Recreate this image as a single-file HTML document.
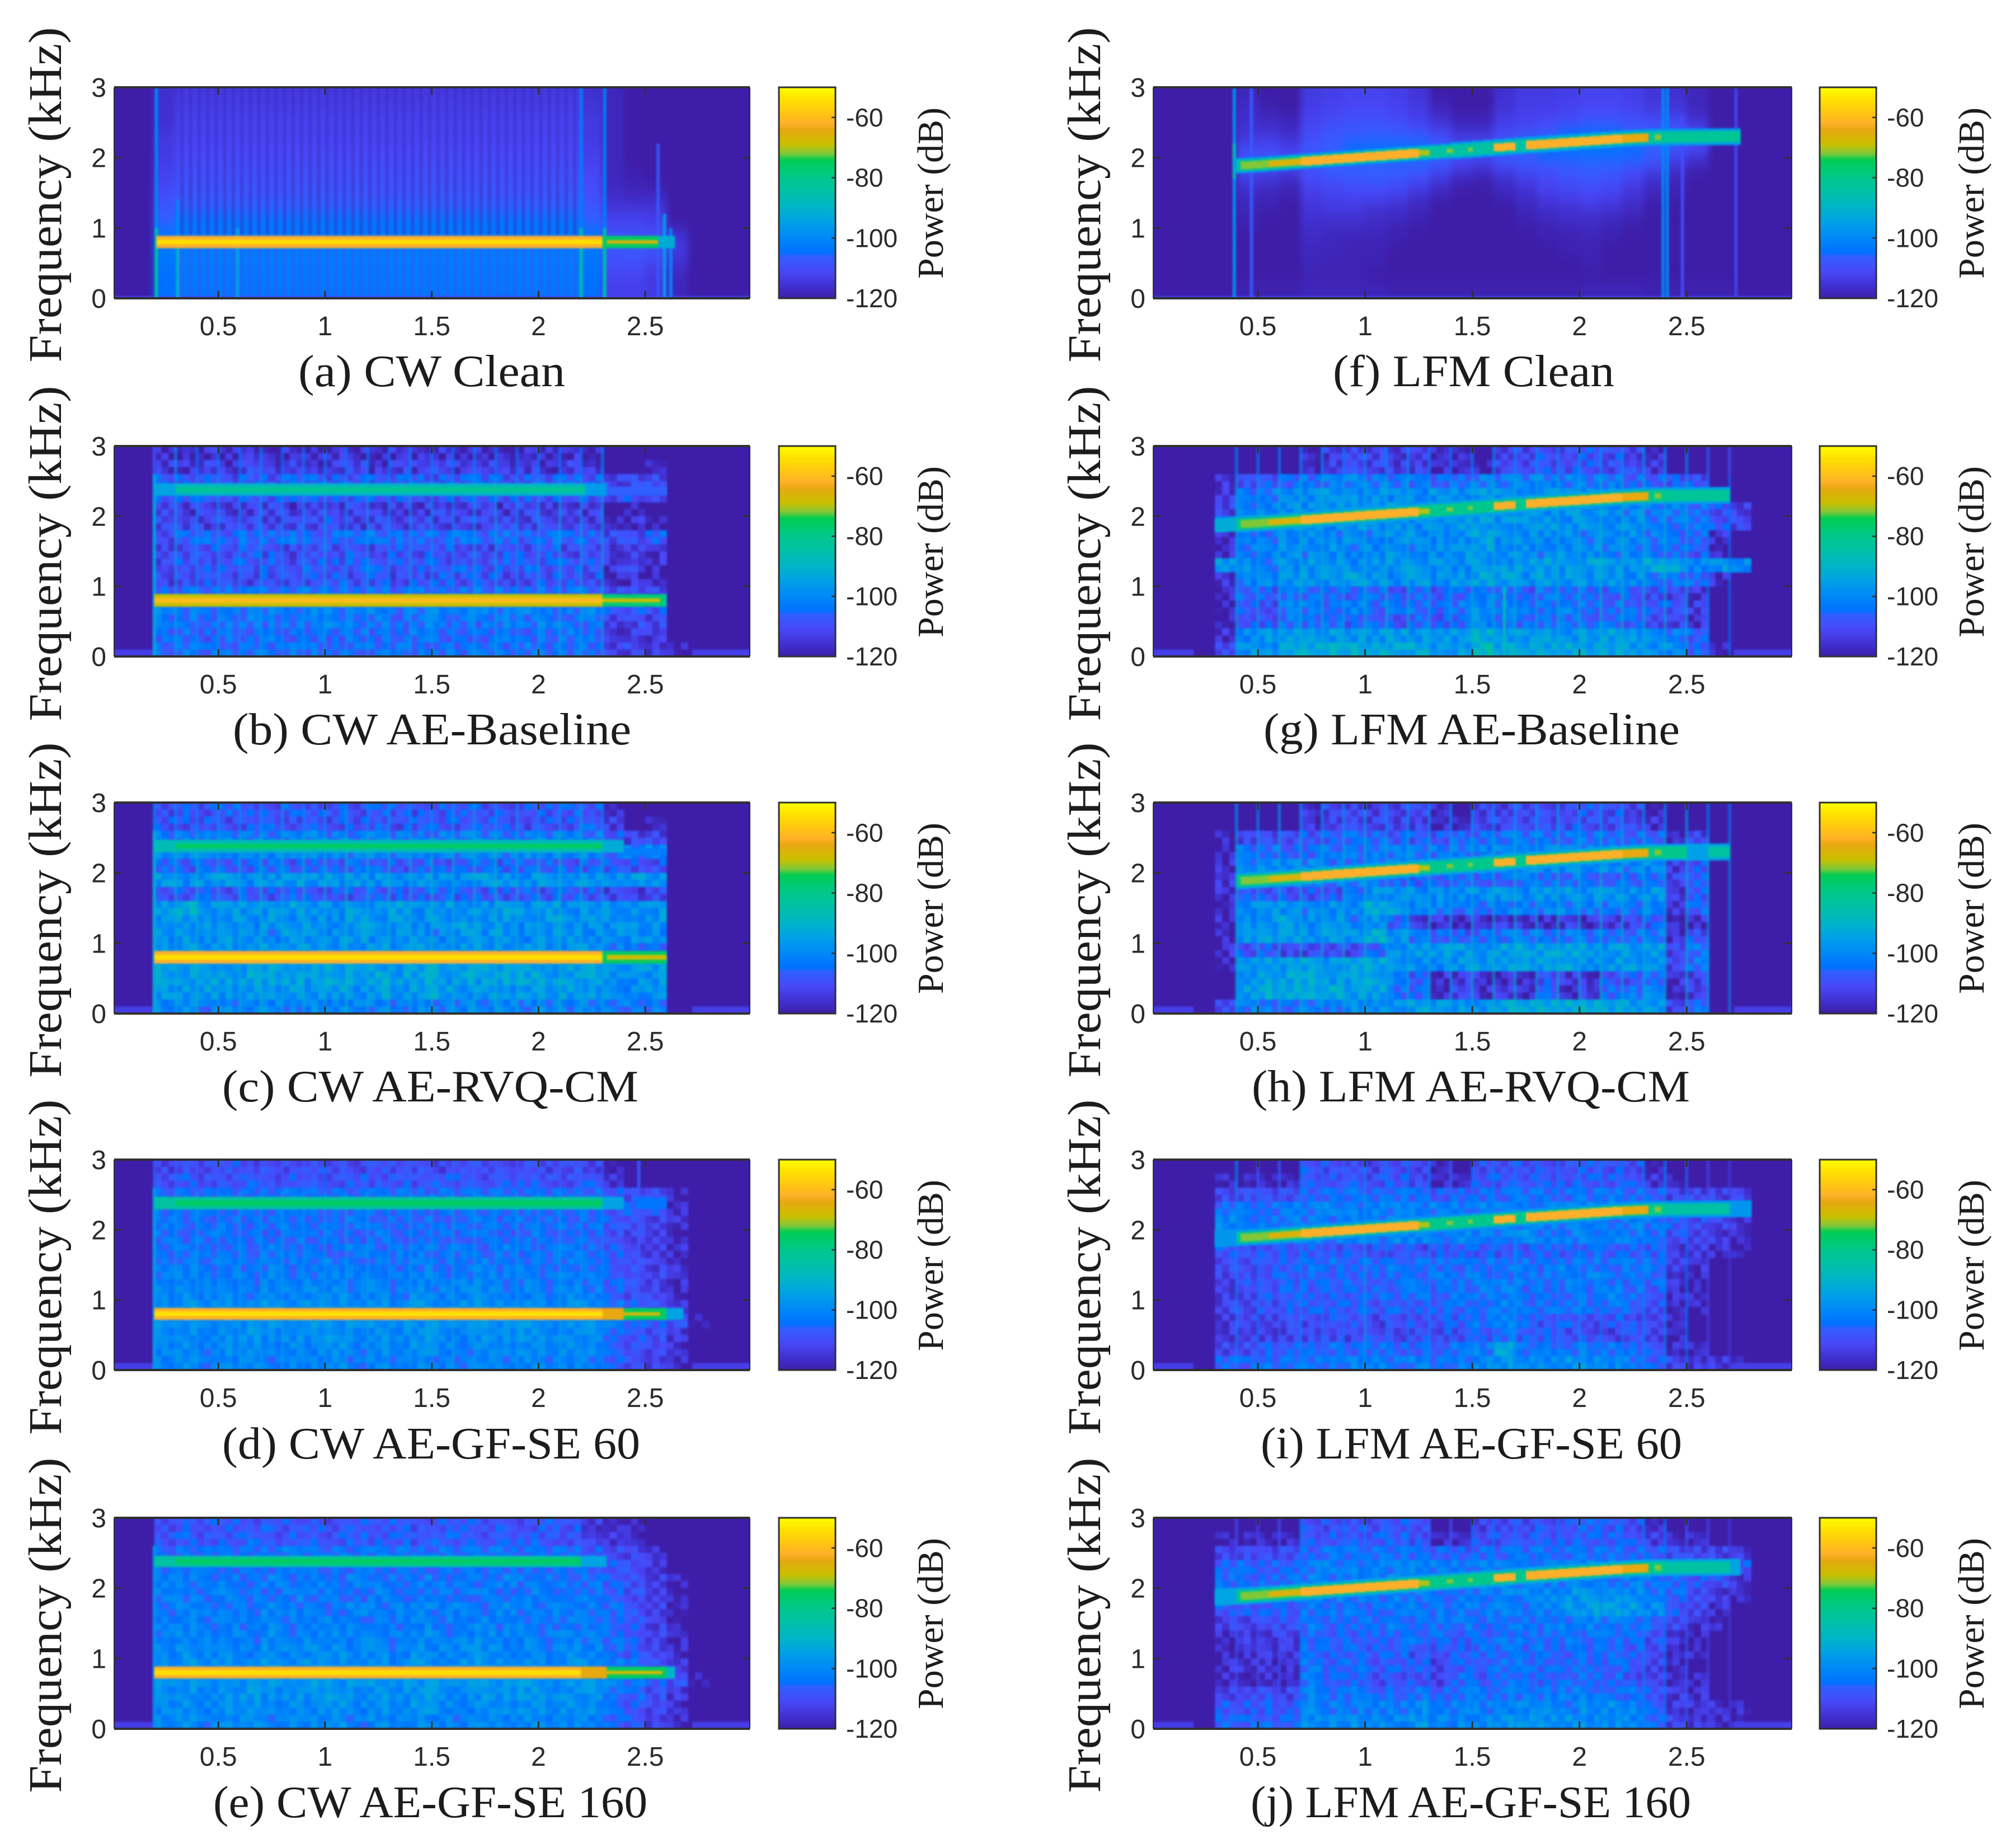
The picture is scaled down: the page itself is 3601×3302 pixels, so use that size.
<!DOCTYPE html>
<html lang="en">
<head>
<meta charset="utf-8">
<title>CW and LFM spectrograms</title>
<style>
html,body{margin:0;padding:0;background:#fff;}
svg{display:block;}
.tick{font-family:"Liberation Sans",Arial,sans-serif;fill:#2b2b2b;}
.serif{font-family:"Liberation Serif","Times New Roman",serif;fill:#1c1c1c;}
</style>
</head>
<body>
<svg id="figure" xmlns="http://www.w3.org/2000/svg" width="3601" height="3302" viewBox="0 0 3601 3302">
<rect x="0" y="0" width="3601" height="3302" fill="#ffffff"/>
<defs>
<filter id="soften" x="-3%" y="-3%" width="106%" height="106%" color-interpolation-filters="sRGB"><feGaussianBlur stdDeviation="1.7"/></filter>
<filter id="smooth" x="-5%" y="-10%" width="110%" height="120%" color-interpolation-filters="sRGB"><feGaussianBlur stdDeviation="6 13"/></filter>
</defs>
<g id="plots"></g>

<g class="serif" font-size="84" text-anchor="middle">
<text transform="rotate(-90 109 348)" x="109" y="348" textLength="599" lengthAdjust="spacingAndGlyphs">Frequency (kHz)</text>
<text transform="rotate(-90 109 989)" x="109" y="989" textLength="599" lengthAdjust="spacingAndGlyphs">Frequency (kHz)</text>
<text transform="rotate(-90 109 1626)" x="109" y="1626" textLength="599" lengthAdjust="spacingAndGlyphs">Frequency (kHz)</text>
<text transform="rotate(-90 109 2264)" x="109" y="2264" textLength="599" lengthAdjust="spacingAndGlyphs">Frequency (kHz)</text>
<text transform="rotate(-90 109 2904)" x="109" y="2904" textLength="599" lengthAdjust="spacingAndGlyphs">Frequency (kHz)</text>
<text transform="rotate(-90 1966 348)" x="1966" y="348" textLength="599" lengthAdjust="spacingAndGlyphs">Frequency (kHz)</text>
<text transform="rotate(-90 1966 989)" x="1966" y="989" textLength="599" lengthAdjust="spacingAndGlyphs">Frequency (kHz)</text>
<text transform="rotate(-90 1966 1626)" x="1966" y="1626" textLength="599" lengthAdjust="spacingAndGlyphs">Frequency (kHz)</text>
<text transform="rotate(-90 1966 2264)" x="1966" y="2264" textLength="599" lengthAdjust="spacingAndGlyphs">Frequency (kHz)</text>
<text transform="rotate(-90 1966 2904)" x="1966" y="2904" textLength="599" lengthAdjust="spacingAndGlyphs">Frequency (kHz)</text>
</g>

<g class="serif" font-size="66" text-anchor="middle">
<text transform="rotate(-90 1685 345)" x="1685" y="345" textLength="306" lengthAdjust="spacingAndGlyphs">Power (dB)</text>
<text transform="rotate(-90 1685 986)" x="1685" y="986" textLength="306" lengthAdjust="spacingAndGlyphs">Power (dB)</text>
<text transform="rotate(-90 1685 1623)" x="1685" y="1623" textLength="306" lengthAdjust="spacingAndGlyphs">Power (dB)</text>
<text transform="rotate(-90 1685 2261)" x="1685" y="2261" textLength="306" lengthAdjust="spacingAndGlyphs">Power (dB)</text>
<text transform="rotate(-90 1685 2901)" x="1685" y="2901" textLength="306" lengthAdjust="spacingAndGlyphs">Power (dB)</text>
<text transform="rotate(-90 3545 345)" x="3545" y="345" textLength="306" lengthAdjust="spacingAndGlyphs">Power (dB)</text>
<text transform="rotate(-90 3545 986)" x="3545" y="986" textLength="306" lengthAdjust="spacingAndGlyphs">Power (dB)</text>
<text transform="rotate(-90 3545 1623)" x="3545" y="1623" textLength="306" lengthAdjust="spacingAndGlyphs">Power (dB)</text>
<text transform="rotate(-90 3545 2261)" x="3545" y="2261" textLength="306" lengthAdjust="spacingAndGlyphs">Power (dB)</text>
<text transform="rotate(-90 3545 2901)" x="3545" y="2901" textLength="306" lengthAdjust="spacingAndGlyphs">Power (dB)</text>
</g>

<g class="serif" font-size="80">
<text x="533" y="690" textLength="477" lengthAdjust="spacingAndGlyphs">(a) CW Clean</text>
<text x="416" y="1330" textLength="712" lengthAdjust="spacingAndGlyphs">(b) CW AE-Baseline</text>
<text x="397" y="1968" textLength="744" lengthAdjust="spacingAndGlyphs">(c) CW AE-RVQ-CM</text>
<text x="397" y="2606" textLength="747" lengthAdjust="spacingAndGlyphs">(d) CW AE-GF-SE 60</text>
<text x="381" y="3247" textLength="776" lengthAdjust="spacingAndGlyphs">(e) CW AE-GF-SE 160</text>
<text x="2382" y="690" textLength="503" lengthAdjust="spacingAndGlyphs">(f) LFM Clean</text>
<text x="2258" y="1330" textLength="744" lengthAdjust="spacingAndGlyphs">(g) LFM AE-Baseline</text>
<text x="2237" y="1968" textLength="783" lengthAdjust="spacingAndGlyphs">(h) LFM AE-RVQ-CM</text>
<text x="2253" y="2606" textLength="753" lengthAdjust="spacingAndGlyphs">(i) LFM AE-GF-SE 60</text>
<text x="2235" y="3247" textLength="787" lengthAdjust="spacingAndGlyphs">(j) LFM AE-GF-SE 160</text>
</g>
</svg>

<script>
// ---- axis ticks ----
const xTickValues = [0.5, 1, 1.5, 2, 2.5];
const xTickLabels = ["0.5", "1", "1.5", "2", "2.5"];
const yTickValues = [0, 1, 2, 3];
const yTickLabels = ["0", "1", "2", "3"];
const colorbarTickValues = [-60, -80, -100, -120];
const colorbarTickLabels = ["-60", "-80", "-100", "-120"];

// ---- spectrogram grid: start time (s) of each column, centre frequency (kHz) of each row ----
const cellTimes = [0.2,0.3,0.4,0.5,0.6,0.7,0.8,0.9,1.0,1.1,1.2,1.3,1.4,1.5,1.6,1.7,1.8,1.9,2.0,2.1,2.2,2.3,2.4,2.5,2.6,2.7];
const cellFreqs = [2.9,2.7,2.5,2.3,2.1,1.9,1.7,1.5,1.3,1.1,0.9,0.7,0.5,0.3,0.1];
const cwPulseTimes = [0.2,0.3,0.4,0.5,0.6,0.7,0.8,0.9,1.0,1.1,1.2,1.3,1.4,1.5,1.6,1.7,1.8,1.9,2.0,2.1,2.2,2.3];
const lfmPulseTimes = [0.4,0.5,0.6,0.7,0.8,0.9,1.0,1.1,1.2,1.3,1.4,1.5,1.6,1.7,1.8,1.9,2.0,2.1,2.2,2.3,2.4,2.5,2.6,2.7];
const lfmRidgeTimes = [0.38,0.5,0.7,0.95,1.25,1.6,1.75,2.2,2.35,2.8];
const lfmRidgeFreqs = [1.88,1.90,1.945,2.0,2.065,2.14,2.175,2.27,2.29,2.30];

// small hand-typed speckle offsets (dB) for the noisy reconstructed panels
const speckleDb = [
[ 3,-4, 1, 5,-2,-5, 2, 4,-3, 0,-4],
[-2, 4,-5, 0, 3, 1,-4, 5,-1,-3, 3],
[ 5,-1, 2,-4, 4,-3, 0,-5, 3, 2,-2],
[-4, 2, 4,-1,-5, 3, 5,-2, 0,-3, 4],
[ 1,-5, 3, 2, 0,-2,-4, 4, 5,-1,-3],
[ 4, 0,-3,-5, 5, 2,-1,-4, 1, 3,-5],
[-3, 5,-2, 3,-4, 4, 1, 0,-5, 4, 2]];

// ---- power grids: values are dB below 0, one row per cellFreqs, one column per cellTimes; 120 = floor ----
const gridA = [
[116,114,114,114,114,114,114,114,114,114,114,114,114,114,114,114,114,114,114,114,116,118,120,120,120,120],
[116,113,113,113,113,113,113,113,113,113,113,113,113,113,113,113,113,113,113,113,115,118,120,120,120,120],
[116,112,112,112,112,112,112,112,112,112,112,112,112,112,112,112,112,112,112,112,114,118,120,120,120,120],
[114,112,112,112,112,112,112,112,112,112,112,112,112,112,112,112,112,112,112,112,114,118,120,120,120,120],
[114,111,111,111,111,111,111,111,111,111,111,111,111,111,111,111,111,111,111,111,113,118,120,120,120,120],
[113,110,110,110,110,110,110,110,110,110,110,110,110,110,110,110,110,110,110,110,112,118,120,120,120,120],
[112,109,109,109,109,109,109,109,109,109,109,109,109,109,109,109,109,109,109,109,111,118,119,120,120,120],
[110,108,108,108,108,108,108,108,108,108,108,108,108,108,108,108,108,108,108,108,110,117,118,118,120,120],
[108,106,106,106,106,106,106,106,106,106,106,106,106,106,106,106,106,106,106,106,108,115,115,115,120,120],
[106,104,104,104,104,104,104,104,104,104,104,104,104,104,104,104,104,104,104,104,106,112,112,113,120,120],
[104,103,103,103,103,103,103,103,103,103,103,103,103,103,103,103,103,103,103,103,104,109,109,110,116,120],
[103,102,102,102,102,102,102,102,102,102,102,102,102,102,102,102,102,102,102,102,103,108,107,108,114,120],
[104,102,102,102,102,102,102,102,102,102,102,102,102,102,102,102,102,102,102,102,104,110,110,112,116,120],
[105,103,103,103,103,103,103,103,103,103,103,103,103,103,103,103,103,103,103,103,105,112,112,114,118,120],
[105,103,103,103,103,103,103,103,103,103,103,103,103,103,103,103,103,103,103,103,105,113,113,114,118,120]];
const gridB = [
[116,118,116,117,115,118,116,117,115,116,118,116,117,115,117,116,118,115,117,116,118,120,120,120,120,120],
[114,116,112,115,111,114,112,116,113,111,115,112,114,111,115,112,114,113,116,112,116,120,120,119,120,120],
[108,109,108,110,108,109,107,108,109,108,109,107,108,109,108,107,109,108,108,107,108,112,110,111,120,120],
[108,108,108,108,108,108,108,108,108,108,108,108,108,108,108,108,108,108,108,108,108,110,110,109,120,120],
[113,114,112,115,113,112,115,113,114,112,115,113,114,112,114,113,115,112,114,113,114,120,119,120,120,120],
[112,111,113,112,110,113,111,112,110,113,111,112,110,112,111,113,110,112,111,112,113,117,116,118,120,120],
[110,106,105,107,105,106,104,107,105,106,104,106,105,107,104,106,105,107,105,106,107,111,110,107,120,120],
[112,110,109,111,108,110,112,109,110,108,111,109,110,108,110,112,109,110,108,111,110,115,114,116,120,120],
[111,108,110,107,109,108,110,107,109,108,107,110,108,109,107,110,108,107,109,108,109,115,113,116,120,120],
[112,111,109,110,112,109,111,110,108,110,109,111,110,108,110,109,111,110,109,110,110,117,115,118,120,120],
[106,105,106,104,105,106,104,105,103,105,104,106,105,103,105,104,105,106,104,105,106,112,112,113,120,120],
[102,102,103,102,103,102,103,102,102,103,102,103,102,102,103,102,103,102,102,103,102,108,108,109,120,120],
[104,103,105,104,103,105,103,104,102,104,103,105,103,104,103,105,103,104,102,104,105,112,111,112,120,120],
[106,105,107,105,106,104,106,105,107,104,106,105,104,106,105,107,104,106,105,104,106,115,113,115,120,120],
[106,104,105,106,104,105,103,105,106,104,105,103,105,104,106,104,105,103,105,104,105,112,112,113,118,120]];
const gridC = [
[110,108,110,107,109,110,107,109,108,110,107,109,110,108,107,109,110,108,109,107,108,116,120,120,120,120],
[109,110,108,110,109,107,110,108,110,109,107,110,108,109,110,107,109,110,108,109,107,114,120,119,120,120],
[104,103,103,102,103,104,103,102,103,104,102,103,104,103,102,103,104,103,102,103,103,108,112,112,120,120],
[100,100,101,100,101,100,101,100,100,101,100,101,100,100,101,100,101,100,100,101,100,104,103,100,120,120],
[107,108,106,108,107,106,108,107,108,106,107,108,106,108,107,106,108,107,106,108,107,108,110,109,120,120],
[98,99,98,97,99,98,97,99,98,97,99,98,97,98,99,97,98,99,97,98,97,98,97,98,120,120],
[108,109,107,109,108,110,107,109,108,110,107,109,108,107,109,108,110,107,109,108,109,112,113,111,120,120],
[97,92,98,97,99,98,96,98,99,97,98,96,99,97,98,99,96,98,97,99,98,99,100,98,120,120],
[98,97,99,98,100,97,99,98,100,97,99,98,100,98,97,99,98,100,97,99,98,99,100,98,120,120],
[99,98,100,97,99,101,98,100,99,97,100,98,99,101,98,99,97,100,98,99,100,98,99,100,120,120],
[98,97,99,98,100,98,97,99,98,100,97,99,98,97,99,98,100,97,98,99,98,103,106,107,120,120],
[96,95,96,97,96,95,96,97,95,96,97,96,95,96,97,95,96,97,96,95,96,98,97,96,120,120],
[95,96,94,97,95,96,94,97,95,96,94,96,95,97,94,96,95,94,96,95,96,98,99,98,120,120],
[97,98,96,99,97,98,96,98,97,99,96,98,97,96,98,97,99,96,98,97,98,99,100,99,120,120],
[102,100,103,101,102,100,103,101,102,100,102,103,100,102,101,103,100,102,101,102,101,102,103,102,120,120]];
const gridD = [
[112,110,111,109,112,110,111,109,110,112,109,111,110,112,109,110,111,109,112,110,112,118,120,120,120,120],
[110,108,110,109,107,110,108,109,110,107,109,108,110,107,109,110,108,107,109,110,108,116,120,120,120,120],
[106,105,106,105,106,105,104,106,105,106,105,104,106,105,106,105,104,106,105,106,105,108,110,110,118,120],
[105,105,105,105,105,105,105,105,105,105,105,105,105,105,105,105,105,105,105,105,105,108,107,106,116,120],
[104,105,106,104,106,105,104,106,105,104,106,105,104,106,105,104,106,105,104,105,105,108,110,112,116,120],
[105,106,104,106,105,107,104,106,105,107,104,106,105,104,106,105,107,104,106,105,106,109,112,113,118,120],
[104,103,105,104,106,103,105,104,106,103,105,104,103,105,104,106,103,105,104,103,105,108,112,114,116,120],
[103,102,104,103,105,102,104,103,102,104,103,105,102,104,103,102,104,103,105,103,104,108,110,113,116,120],
[102,101,103,102,104,101,103,102,101,103,102,104,101,103,102,101,103,102,104,102,103,107,110,112,116,120],
[101,100,102,101,103,100,102,101,100,102,101,103,100,102,101,100,102,101,103,101,102,106,110,112,117,120],
[100,98,100,99,101,98,100,99,98,100,99,101,98,100,99,98,100,99,101,99,100,104,108,110,114,120],
[99,98,99,98,99,98,99,98,99,98,99,98,99,98,99,98,99,98,99,98,99,102,106,108,110,118],
[100,99,101,100,98,101,99,100,98,101,99,100,98,100,101,99,100,98,100,99,100,105,108,110,114,120],
[101,100,102,100,99,102,100,101,99,102,100,101,99,101,102,100,101,99,101,100,101,106,109,112,116,120],
[102,100,103,101,100,103,101,102,100,103,101,102,100,102,103,101,102,100,102,101,102,106,110,112,116,120]];
const gridE = [
[110,108,109,108,110,107,109,108,110,107,109,108,110,108,107,109,108,110,107,109,114,116,118,120,120,120],
[109,107,109,108,106,109,107,108,109,106,108,107,109,106,108,109,107,106,108,109,113,115,117,120,120,120],
[106,104,105,104,105,104,103,105,104,105,104,103,105,104,105,104,103,105,104,105,108,110,112,116,120,120],
[104,104,104,104,104,104,104,104,104,104,104,104,104,104,104,104,104,104,104,104,106,108,110,114,120,120],
[103,102,104,103,105,102,104,103,105,102,104,103,102,104,103,105,102,104,103,104,104,107,110,113,118,120],
[103,102,104,102,103,105,102,104,103,105,102,104,103,102,104,103,105,102,104,103,103,106,110,113,118,120],
[103,101,103,102,104,101,103,102,104,101,103,102,101,103,102,104,101,103,102,103,103,105,109,113,119,120],
[102,101,103,102,104,101,103,102,101,103,102,104,101,103,102,101,103,102,104,102,103,105,109,113,119,120],
[102,100,102,101,103,100,102,101,100,102,101,103,100,102,101,100,102,101,103,101,102,105,109,112,117,120],
[101,99,101,100,102,99,101,100,99,101,100,102,99,101,100,99,101,100,102,100,101,104,108,112,116,120],
[99,98,100,99,101,98,100,99,98,100,99,101,98,100,99,98,100,99,101,99,100,103,106,110,114,120],
[98,97,98,97,98,97,98,97,98,97,98,97,98,97,98,97,98,97,98,97,98,100,104,108,110,118],
[99,98,100,99,97,100,98,99,97,100,98,99,97,99,100,98,99,97,99,98,99,103,106,110,114,120],
[100,99,101,99,98,101,99,100,98,101,99,100,98,100,101,99,100,98,100,99,100,104,108,112,116,120],
[101,99,102,100,99,102,100,101,99,102,100,101,99,101,102,100,101,99,101,100,101,105,108,112,116,120]];
const gridF = [
[120,120,118,120,120,114,113,112,112,113,115,120,120,120,116,114,114,113,112,112,113,115,116,118,120,120],
[120,120,117,119,120,113,112,111,111,112,114,118,120,120,115,113,113,112,111,111,112,114,115,118,120,120],
[120,120,116,117,118,112,110,109,109,110,112,115,118,118,113,112,111,110,108,108,109,110,110,115,120,120],
[120,120,115,114,116,110,108,107,106,106,107,110,114,114,110,108,106,105,105,105,106,106,108,110,120,120],
[120,120,110,110,112,108,106,105,105,105,105,106,108,108,106,106,105,105,104,104,105,106,108,112,120,120],
[120,120,108,108,110,108,106,106,106,106,106,108,112,114,110,108,108,107,106,106,108,110,115,118,120,120],
[120,120,114,115,117,111,109,108,107,108,110,114,118,119,116,113,111,109,108,109,112,116,118,120,120,120],
[120,120,117,118,119,113,112,111,111,112,115,118,120,120,118,116,113,112,111,112,115,118,119,120,120,120],
[120,120,118,119,120,115,114,114,115,116,118,120,120,120,120,118,116,115,114,115,117,120,120,120,120,120],
[120,120,119,120,120,116,116,116,117,118,119,120,120,120,120,119,118,117,117,118,119,120,120,120,120,120],
[120,120,120,120,120,117,118,118,118,119,120,120,120,120,120,120,119,119,118,119,120,120,120,120,120,120],
[120,120,120,120,120,118,118,119,119,120,120,120,120,120,120,120,120,119,119,120,120,120,120,120,120,120],
[120,120,120,120,120,118,119,119,119,120,120,120,120,120,120,120,120,120,119,120,120,120,120,120,120,120],
[120,120,120,120,120,119,119,119,120,120,120,120,120,120,120,120,120,120,120,120,120,120,120,120,120,120],
[120,120,119,119,119,118,118,118,118,119,119,119,119,119,119,119,119,119,118,118,118,119,119,119,119,120]];
const gridG = [
[120,120,120,120,120,118,114,111,112,114,113,118,118,120,113,111,110,110,109,110,112,116,120,120,120,120],
[120,120,120,120,120,118,113,110,112,113,112,117,118,119,112,110,109,109,108,110,111,115,120,120,120,120],
[120,116,110,108,106,104,103,102,103,104,105,106,105,102,103,102,101,102,103,104,106,107,108,110,120,120],
[120,114,104,102,100,99,98,99,98,100,101,98,99,97,99,100,98,99,100,99,100,102,100,100,112,120],
[120,112,103,102,99,100,97,99,98,97,99,98,100,97,99,98,100,98,99,100,101,103,102,104,110,114],
[120,100,100,101,98,99,100,97,99,98,100,97,96,95,98,99,97,99,98,100,99,102,104,103,108,112],
[120,116,104,103,101,100,102,99,101,100,99,101,100,96,100,99,101,100,102,101,100,103,105,106,116,120],
[120,116,103,102,100,101,99,102,100,99,101,100,98,96,99,100,102,99,100,101,102,104,106,108,118,120],
[120,96,100,102,99,98,97,100,98,99,98,99,100,97,98,97,96,98,96,97,99,94,96,101,98,100],
[120,116,102,100,98,97,99,96,98,100,97,99,98,95,96,99,95,97,98,99,100,102,104,106,116,120],
[120,118,106,108,104,106,105,108,104,110,106,108,107,102,105,108,104,106,105,107,108,110,112,116,120,120],
[120,118,106,110,102,104,105,103,106,104,105,106,104,100,103,104,105,103,104,105,106,108,110,114,120,120],
[120,118,108,110,104,106,104,108,106,110,106,108,106,100,104,106,105,104,106,104,108,110,112,116,120,120],
[120,116,100,98,96,97,96,97,98,96,98,96,98,92,96,97,96,98,97,96,98,100,102,108,120,120],
[120,112,98,99,94,93,92,93,94,93,94,97,96,88,94,95,94,93,95,94,96,98,100,106,118,120]];
const gridH = [
[120,120,120,120,120,116,112,112,113,112,111,118,120,112,113,110,111,110,109,110,112,118,120,120,120,120],
[120,120,120,120,120,115,112,111,112,112,112,118,119,112,112,110,110,109,109,110,112,116,120,120,120,120],
[120,118,112,110,110,108,108,106,106,108,108,108,106,106,104,104,104,104,104,106,106,106,118,112,120,120],
[120,118,104,104,108,106,104,103,102,103,103,104,102,103,101,100,100,100,102,101,102,100,112,100,120,120],
[120,116,102,100,100,101,104,106,102,103,100,100,102,100,100,99,100,100,101,100,102,100,114,108,120,120],
[120,114,104,104,102,104,104,102,103,106,108,106,104,106,106,104,105,104,106,106,106,104,112,106,120,120],
[120,116,108,108,110,110,110,104,98,100,100,100,100,100,98,100,98,98,99,98,100,98,114,108,120,120],
[120,118,100,98,100,101,99,100,92,96,100,102,104,104,102,103,102,101,103,102,104,102,116,106,120,120],
[120,116,100,98,96,100,97,102,98,108,114,116,118,116,114,116,117,114,116,114,112,108,118,116,120,120],
[120,118,98,96,96,98,97,99,92,98,104,106,108,106,104,103,104,102,104,106,104,102,116,110,120,120],
[120,116,110,108,112,112,110,112,106,100,98,96,97,98,96,95,96,95,96,97,98,96,112,104,120,120],
[120,118,96,96,97,96,97,96,94,98,100,100,98,97,97,96,97,96,98,97,97,98,112,104,120,120],
[120,120,98,96,95,94,96,96,95,102,108,116,114,116,116,118,110,114,116,108,110,104,116,112,120,120],
[120,120,96,94,93,94,92,96,96,104,106,116,112,116,112,116,106,116,114,106,104,100,118,114,120,120],
[120,112,102,104,106,102,104,100,100,98,96,96,97,98,94,94,93,92,92,94,96,96,112,104,120,120]];
const gridI = [
[120,120,120,120,120,109,110,110,112,110,112,119,120,110,110,109,110,109,108,109,110,118,120,120,120,120],
[120,118,118,118,118,108,109,108,110,108,110,118,118,109,109,108,108,108,107,108,109,116,119,120,120,120],
[120,112,110,110,110,106,106,105,106,104,106,108,107,106,106,104,104,105,104,104,105,106,112,112,112,112],
[120,104,104,104,102,102,101,102,101,102,102,102,102,102,102,102,102,101,101,100,100,100,100,100,102,106],
[120,100,104,103,102,103,104,102,103,101,100,100,102,100,101,103,102,103,102,104,102,104,108,110,112,116],
[120,96,100,100,103,102,103,101,102,100,101,102,100,101,102,100,103,102,102,101,102,104,110,112,114,118],
[120,108,110,108,109,108,110,108,109,110,110,109,108,109,110,108,107,108,106,108,107,108,114,114,116,118],
[120,110,110,109,108,105,105,106,105,104,104,105,105,104,103,104,105,103,104,104,103,104,114,116,120,120],
[120,112,110,108,107,106,106,106,107,106,105,104,104,103,104,103,104,103,102,104,105,106,116,118,120,120],
[120,114,112,108,106,107,108,108,106,106,104,106,104,103,102,106,104,104,104,102,104,108,116,118,120,120],
[120,112,112,110,108,108,107,108,108,107,109,106,106,104,102,104,105,104,104,104,106,110,118,118,120,120],
[120,114,110,112,110,112,108,110,112,110,110,108,108,104,102,106,110,108,110,108,110,112,118,120,120,120],
[120,114,112,114,112,112,110,112,110,112,110,110,110,108,104,108,108,110,110,112,110,112,118,120,120,120],
[120,112,110,108,106,106,104,106,105,106,107,106,104,102,92,104,104,104,103,104,106,108,116,118,120,120],
[120,106,106,105,104,103,104,102,102,103,102,104,102,100,98,100,100,98,99,100,102,106,112,114,114,116]];
const gridJ = [
[120,120,120,120,120,110,110,109,110,108,110,120,120,112,111,110,110,108,106,108,110,116,120,120,120,120],
[120,119,118,118,118,108,108,108,108,106,109,118,118,110,110,108,108,107,106,107,109,114,118,118,120,120],
[120,112,111,111,110,106,104,105,104,104,106,106,108,106,106,105,104,104,104,105,106,106,110,112,112,114],
[120,106,105,106,106,102,102,102,101,102,101,102,102,102,102,102,102,102,101,101,102,102,102,102,102,108],
[120,104,106,105,104,102,103,103,102,100,102,102,102,100,101,103,102,103,102,104,102,104,106,108,110,116],
[120,100,102,102,104,102,102,103,104,102,103,104,103,102,101,102,100,98,97,97,99,102,106,110,114,118],
[120,108,108,106,108,104,105,103,105,104,103,104,103,104,102,103,102,98,96,95,97,100,108,112,116,120],
[120,112,112,110,110,104,106,105,104,103,105,104,103,105,103,104,104,103,102,102,104,106,112,116,118,120],
[120,116,114,114,113,106,106,107,106,107,105,106,108,106,104,104,105,104,105,104,106,110,116,118,120,120],
[120,118,116,114,114,104,108,107,108,106,110,109,108,106,105,106,104,106,105,106,107,110,118,118,120,120],
[120,116,116,116,116,104,107,106,108,108,108,112,108,106,104,104,107,106,105,106,108,112,118,120,120,120],
[120,116,118,116,118,104,106,108,110,110,110,112,106,108,105,106,108,106,104,106,110,112,118,118,120,120],
[120,112,110,110,112,102,104,104,106,106,104,106,104,104,103,104,104,102,103,104,106,108,114,116,120,120],
[120,108,108,108,108,100,102,102,102,102,100,102,102,102,100,100,100,102,100,100,102,106,114,116,116,118],
[120,106,106,106,106,99,100,100,100,100,98,100,100,100,98,98,98,98,100,99,100,104,112,114,116,118]];

// ---- pulse streak power (dB) per panel: above and below 2.55 kHz, aligned with the pulse-time arrays ----
const bStreakUpper = [-100,-98,-104,-102,-104,-101,-104,-103,-102,-104,-102,-104,-101,-103,-104,-102,-103,-104,-102,-103,-104,-100];
const bStreakLower = [-92,-94,-99,-97,-99,-96,-99,-97,-95,-98,-96,-99,-96,-97,-99,-96,-94,-98,-96,-93,-95,-94];
const cStreakUpper = [-100,-99,-101,-98,-100,-99,-97,-100,-99,-98,-100,-97,-99,-100,-98,-97,-99,-98,-100,-99,-96,-100];
const cStreakLower = [-90,-92,-90,-94,-92,-89,-93,-91,-92,-88,-92,-90,-92,-89,-92,-92,-88,-92,-91,-88,-92,-94];
const dStreakUpper = [-106,-106,-108,-106,-108,-106,-108,-107,-105,-108,-106,-107,-106,-108,-107,-106,-107,-108,-106,-107,-106,-108];
const dStreakLower = [-94,-97,-96,-98,-96,-97,-96,-98,-97,-95,-96,-98,-96,-97,-95,-96,-98,-96,-97,-96,-98,-100];
const gStreakUpper = [-100,-102,-100,-99,-100,-102,-100,-100,-99,-102,-104,-102,-100,-100,-99,-100,-99,-99,-99,-98,-100,-100,-106,-108];
const gStreakLower = [-94,-95,-92,-90,-92,-94,-91,-90,-91,-94,-96,-92,-92,-92,-93,-91,-92,-90,-90,-91,-92,-93,-102,-104];
const hStreakUpper = [-98,-100,-97,-98,-99,-98,-96,-100,-98,-99,-100,-98,-100,-98,-97,-96,-98,-97,-98,-99,-100,-98,-102,-104];
const hStreakLower = [-92,-94,-92,-91,-93,-92,-90,-94,-92,-92,-94,-92,-92,-91,-93,-90,-92,-91,-92,-92,-94,-92,-96,-98];
const iStreakUpper = [-100,-108,-106,-103,-104,-106,-101,-103,-104,-102,-106,-104,-102,-102,-104,-102,-101,-102,-104,-102,-102,-106,-112,-114];
const iStreakLower = [-100,-104,-106,-100,-102,-104,-96,-103,-102,-100,-102,-104,-100,-100,-102,-100,-98,-102,-102,-100,-100,-104,-112,-114];
const jStreakUpper = [-110,-112,-108,-103,-106,-104,-102,-104,-103,-106,-108,-104,-104,-103,-102,-103,-102,-104,-104,-102,-104,-108,-112,-114];
const jStreakLower = [-108,-110,-108,-102,-104,-103,-102,-104,-102,-104,-106,-102,-102,-103,-100,-102,-100,-102,-102,-100,-103,-106,-112,-114];

// ---- extra vertical lines per panel: [time s, low kHz, high kHz, dB] ----
const aExtraLines = [[0.21,0,3,-100],[0.21,0,1,-85],[0.31,0,0.9,-90],[0.31,0.9,1.4,-100],[0.59,0,1,-94],[2.2,0,3,-102],[2.2,0,1,-85],[2.31,0,3,-102],[2.31,0,1,-85],[2.56,0,2.2,-108],[2.59,0,1.2,-95],[2.62,0,1,-100]];
const aCombTimes = [0.33,0.37,0.41,0.45,0.49,0.53,0.57,0.61,0.65,0.69,0.73,0.77,0.81,0.85,0.89,0.93,0.97,1.01,1.05,1.09,1.13,1.17,1.21,1.25,1.29,1.33,1.37,1.41,1.45,1.49,1.53,1.57,1.61,1.65,1.69,1.73,1.77,1.81,1.85,1.89,1.93,1.97,2.01,2.05,2.09,2.13,2.17];
const aCombLevels = [[0.9,3,-118],[0,0.7,-110]];
const bExtraLines = [[0.2,0,2.6,-94],[0.2,2.6,3,-112]];
const cExtraLines = [[0.2,0,2.6,-92]];
const dExtraLines = [[0.2,0,2.6,-96],[2.47,0,3,-108]];
const eExtraLines = [[0.2,0,2.6,-98]];
const fExtraLines = [[0.39,0,3,-98],[0.39,1.7,2.2,-85],[0.47,0,3,-107],[2.39,0,3,-100],[2.41,0,3,-100],[2.48,0,2.6,-110],[2.73,0,3,-112]];
const gExtraLines = [[1.65,0,1,-88]];
const hExtraLines = [];
const iExtraLines = [[1.7,0,2,-100]];
const jExtraLines = [];

// ---- floor band along the bottom: [low kHz, high kHz, dB] ----
const aFloorBand = [0,0.03,-112];
const fFloorBand = [0,0.03,-112];
const reconFloorBand = [0,0.1,-113];

// ---- CW tone bands: [start s, end s, centre kHz, half width kHz, dB] ----
const aBands = [[0.21,2.3,0.8,0.088,-62],[0.21,2.3,0.8,0.032,-54],[2.3,2.62,0.8,0.088,-76],[2.32,2.56,0.8,0.025,-66],[2.56,2.64,0.8,0.088,-92]];
const bBands = [[0.2,0.3,2.38,0.09,-94],[0.3,2.22,2.38,0.09,-90],[0.3,2.22,2.38,0.04,-82],[2.22,2.32,2.38,0.09,-96],[2.32,2.6,2.36,0.06,-106],[0.2,2.3,0.8,0.09,-69],[0.2,2.32,0.8,0.035,-60],[2.3,2.6,0.8,0.09,-78],[2.3,2.57,0.8,0.028,-69]];
const cBands = [[0.2,2.3,2.38,0.09,-87],[0.3,2.3,2.38,0.035,-76],[2.3,2.4,2.38,0.09,-92],[2.4,2.6,2.3,0.05,-102],[0.2,2.3,0.8,0.09,-62],[0.2,2.3,0.8,0.035,-54],[2.3,2.6,0.8,0.09,-76],[2.32,2.6,0.8,0.035,-68]];
const dBands = [[0.2,2.3,2.38,0.09,-84],[0.3,2.3,2.38,0.04,-76],[2.3,2.4,2.38,0.09,-94],[2.45,2.6,2.38,0.08,-104],[0.2,2.3,0.8,0.085,-62],[0.2,2.3,0.8,0.035,-54],[2.3,2.4,0.8,0.085,-64],[2.4,2.6,0.8,0.085,-76],[2.4,2.57,0.8,0.025,-68],[2.6,2.68,0.8,0.085,-94]];
const eBands = [[0.2,2.2,2.38,0.08,-84],[0.3,2.2,2.38,0.04,-76],[2.2,2.32,2.38,0.08,-94],[0.2,2.2,0.8,0.085,-62],[0.2,2.2,0.8,0.035,-54],[2.2,2.32,0.8,0.085,-64],[2.32,2.6,0.8,0.085,-76],[2.32,2.58,0.8,0.025,-68],[2.6,2.64,0.8,0.085,-90]];

// ---- LFM ridge layers that follow the ridge line: [start s, end s, half width kHz, dB] ----
const fRidge = [[0.39,1.4,0.11,-97],[1.4,2.4,0.12,-96],[2.4,2.75,0.12,-96],[0.4,1.3,0.085,-84],[1.3,2.4,0.085,-84],[2.4,2.75,0.08,-82]];
const gRidge = [[0.3,0.4,0.1,-92],[0.4,2.7,0.12,-95],[0.4,1.3,0.085,-80],[1.3,2.4,0.085,-80],[2.4,2.7,0.08,-82]];
const hRidge = [[0.4,2.7,0.12,-95],[0.4,1.3,0.085,-80],[1.3,2.5,0.085,-80],[2.6,2.7,0.08,-84]];
const iRidge = [[0.3,0.4,0.12,-92],[0.3,2.8,0.12,-97],[0.4,1.3,0.085,-82],[1.3,2.4,0.085,-80],[2.4,2.7,0.08,-84]];
const jRidge = [[0.3,0.4,0.12,-92],[0.3,2.75,0.12,-94],[0.4,1.3,0.085,-80],[1.3,2.4,0.085,-80],[2.4,2.7,0.08,-84]];
const lfmCore = [[0.42,0.7,0.055,-72],[0.55,0.7,0.04,-66],[0.7,0.95,0.062,-62],[0.95,1.25,0.062,-62],[1.25,1.3,0.04,-70],[1.38,1.41,0.03,-72],[1.48,1.5,0.03,-72],[1.6,1.7,0.055,-62],[1.75,2.2,0.062,-62],[2.2,2.32,0.06,-64],[2.35,2.38,0.04,-72]];

// ---- colour map stops taken from the colour bar ----
const mapLevels = [-120,-116,-111,-106,-105,-100,-95,-90,-85,-80,-74,-72,-69,-64,-62,-58,-54,-50];
const mapColors = [[62,30,168],[64,48,208],[72,72,248],[48,96,255],[0,112,255],[0,136,248],[0,160,232],[0,180,200],[0,192,168],[0,200,140],[0,204,80],[128,200,56],[200,192,0],[232,168,16],[255,176,42],[255,200,16],[255,224,0],[255,255,0]];

const xDomain = [0.012, 2.99];
const yDomain = [0, 3];
const colorDomain = [-120, -50];

const columnBoxes = [{left:204,right:1340,barLeft:1392,barRight:1493,yLabelX:190,barLabelX:1513},{left:2061,right:3202,barLeft:3252,barRight:3353,yLabelX:2047,barLabelX:3373}];
const rowBoxes = [{top:156,bottom:533},{top:797,bottom:1173},{top:1434,bottom:1811},{top:2072,bottom:2448},{top:2712,bottom:3089}];

const panels = [
 {id:'a',col:0,row:0,grid:gridA,speckle:0,floor:aFloorBand,extra:aExtraLines,bands:aBands,comb:aCombTimes},
 {id:'b',col:0,row:1,grid:gridB,speckle:1,floor:reconFloorBand,extra:bExtraLines,bands:bBands,upper:bStreakUpper,lower:bStreakLower,pulses:cwPulseTimes},
 {id:'c',col:0,row:2,grid:gridC,speckle:1,floor:reconFloorBand,extra:cExtraLines,bands:cBands,upper:cStreakUpper,lower:cStreakLower,pulses:cwPulseTimes},
 {id:'d',col:0,row:3,grid:gridD,speckle:0.8,floor:reconFloorBand,extra:dExtraLines,bands:dBands,upper:dStreakUpper,lower:dStreakLower,pulses:cwPulseTimes},
 {id:'e',col:0,row:4,grid:gridE,speckle:0.8,floor:reconFloorBand,extra:eExtraLines,bands:eBands},
 {id:'f',col:1,row:0,grid:gridF,speckle:0,floor:fFloorBand,extra:fExtraLines,ridge:fRidge},
 {id:'g',col:1,row:1,grid:gridG,speckle:1,floor:reconFloorBand,extra:gExtraLines,ridge:gRidge,upper:gStreakUpper,lower:gStreakLower,pulses:lfmPulseTimes},
 {id:'h',col:1,row:2,grid:gridH,speckle:1,floor:reconFloorBand,extra:hExtraLines,ridge:hRidge,upper:hStreakUpper,lower:hStreakLower,pulses:lfmPulseTimes},
 {id:'i',col:1,row:3,grid:gridI,speckle:0.9,floor:reconFloorBand,extra:iExtraLines,ridge:iRidge,upper:iStreakUpper,lower:iStreakLower,pulses:lfmPulseTimes},
 {id:'j',col:1,row:4,grid:gridJ,speckle:0.9,floor:reconFloorBand,extra:jExtraLines,ridge:jRidge,upper:jStreakUpper,lower:jStreakLower,pulses:lfmPulseTimes}
];

const SVGNS = 'http://www.w3.org/2000/svg';
function colorFor(db){
  const v = Math.max(colorDomain[0], Math.min(colorDomain[1], db));
  let i = 0;
  while (i < mapLevels.length - 2 && v > mapLevels[i + 1]) i++;
  const k = (v - mapLevels[i]) / (mapLevels[i + 1] - mapLevels[i]);
  const a = mapColors[i], b = mapColors[i + 1];
  return 'rgb(' + Math.round(a[0] + (b[0] - a[0]) * k) + ',' + Math.round(a[1] + (b[1] - a[1]) * k) + ',' + Math.round(a[2] + (b[2] - a[2]) * k) + ')';
}
function ridgeFreq(t){
  let i = 0;
  while (i < lfmRidgeTimes.length - 2 && t > lfmRidgeTimes[i + 1]) i++;
  const k = (t - lfmRidgeTimes[i]) / (lfmRidgeTimes[i + 1] - lfmRidgeTimes[i]);
  return lfmRidgeFreqs[i] + (lfmRidgeFreqs[i + 1] - lfmRidgeFreqs[i]) * k;
}
function setRect(el, x0, y0, x1, y1, fill){
  el.setAttribute('x', Math.min(x0, x1).toFixed(1));
  el.setAttribute('y', Math.min(y0, y1).toFixed(1));
  el.setAttribute('width', Math.abs(x1 - x0).toFixed(1));
  el.setAttribute('height', Math.abs(y1 - y0).toFixed(1));
  el.setAttribute('fill', fill);
}
function drawCell(parent, x0, y0, x1, y1, db){
  const el = document.createElementNS(SVGNS, 'rect');
  
  
  setRect(el, x0, y0, x1 + 0.6, y1 + 0.6, colorFor(db));
  parent.appendChild(el);
}
function drawStreak(parent, x, y0, y1, db, opacity){
  const el = document.createElementNS(SVGNS, 'rect');
  
  
  setRect(el, x - 3, y0, x + 3, y1, colorFor(db));
  el.setAttribute('fill-opacity', opacity);
  parent.appendChild(el);
}
function drawBand(parent, x0, y0, x1, y1, db){
  const el = document.createElementNS(SVGNS, 'rect');
  
  
  setRect(el, x0, y0, x1, y1, colorFor(db));
  parent.appendChild(el);
}
function drawLine(parent, x1, y1, x2, y2, width, name){
  const el = document.createElementNS(SVGNS, 'line');
  
  
  el.setAttribute('x1', x1);
  el.setAttribute('y1', y1);
  el.setAttribute('x2', x2);
  el.setAttribute('y2', y2);
  el.setAttribute('stroke', '#303030');
  el.setAttribute('stroke-width', width);
  parent.appendChild(el);
}
function drawTickLabel(parent, x, y, label, anchor, size, name){
  const el = document.createElementNS(SVGNS, 'text');
  
  
  el.setAttribute('class', 'tick');
  el.setAttribute('x', x);
  el.setAttribute('y', y);
  el.setAttribute('text-anchor', anchor);
  el.setAttribute('font-size', size);
  el.textContent = label;
  parent.appendChild(el);
}

function drawPanel(p){
  const c = columnBoxes[p.col], r = rowBoxes[p.row];
  const X = t => c.left + (t - xDomain[0]) / (xDomain[1] - xDomain[0]) * (c.right - c.left);
  const Y = f => r.bottom - (f - yDomain[0]) / (yDomain[1] - yDomain[0]) * (r.bottom - r.top);
  const root = document.getElementById('plots');

  const g = document.createElementNS(SVGNS, 'g');
  
  
  root.appendChild(g);

  const clip = document.createElementNS(SVGNS, 'clipPath');
  clip.setAttribute('id', 'clip-' + p.id);
  const clipRect = document.createElementNS(SVGNS, 'rect');
  setRect(clipRect, c.left, r.top, c.right, r.bottom, '#000');
  clip.appendChild(clipRect);
  g.appendChild(clip);

  const clipped = document.createElementNS(SVGNS, 'g');
  clipped.setAttribute('clip-path', 'url(#clip-' + p.id + ')');
  g.appendChild(clipped);

  const bg = document.createElementNS(SVGNS, 'rect');
  
  
  setRect(bg, c.left, r.top, c.right, r.bottom, colorFor(colorDomain[0]));
  clipped.appendChild(bg);

  // clean panels have smooth power surfaces, reconstructed panels stay pixelated
  const surface = document.createElementNS(SVGNS, 'g');
  surface.setAttribute('filter', p.speckle ? 'url(#soften)' : 'url(#smooth)');
  clipped.appendChild(surface);

  const hm = document.createElementNS(SVGNS, 'g');
  hm.setAttribute('filter', 'url(#soften)');
  clipped.appendChild(hm);

  // power grid, each cell split into small speckled sub-cells when the panel is noisy
  cellFreqs.forEach((f, ri) => {
    cellTimes.forEach((t, ci) => {
      const loss = p.grid[ri] ? p.grid[ri][ci] : undefined;
      if (loss === undefined || loss >= 120) return;
      const db = -loss;
      if (!p.speckle) {
        const fTop = ri === 0 ? f + 0.5 : f + 0.1;
        const fBottom = ri === cellFreqs.length - 1 ? f - 0.5 : f - 0.1;
        drawCell(surface, X(t), Y(fTop), X(t + 0.1), Y(fBottom), db);
        return;
      }
      for (let sr = 0; sr < 2; sr++) {
        for (let sc = 0; sc < 3; sc++) {
          const tr = (ri * 2 + sr + ci * ci) % speckleDb.length;
          const tc = (ci * 3 + sc + ri * ri * 2) % speckleDb[0].length;
          drawCell(surface, X(t + sc * 0.1 / 3), Y(f + 0.1 - sr * 0.1), X(t + (sc + 1) * 0.1 / 3), Y(f - sr * 0.1), db + speckleDb[tr][tc] * p.speckle);
        }
      }
    });
  });

  // floor band
  drawBand(hm, X(xDomain[0]) - 20, Y(p.floor[1]), p.pulses || p.speckle ? X(0.2) : X(xDomain[1]) + 20, Y(p.floor[0]), p.floor[2]);
  if (p.speckle) drawBand(hm, X(2.72), Y(p.floor[1]), X(xDomain[1]) + 20, Y(p.floor[0]), p.floor[2]);

  // comb of faint stripes (clean CW panel)
  if (p.comb) {
    p.comb.forEach(t => {
      aCombLevels.forEach(l => drawStreak(hm, X(t), Y(l[1]), Y(l[0]), l[2], 0.45));
    });
  }
  // pulse streaks
  if (p.pulses) {
    p.pulses.forEach((t, i) => {
      drawStreak(hm, X(t), Y(3), Y(2.55), p.upper[i], 0.6);
      drawStreak(hm, X(t), Y(2.55), Y(0), p.lower[i], 0.5);
    });
  }
  p.extra.forEach(l => drawStreak(hm, X(l[0]), Y(l[2]), Y(l[1]), l[3], 0.9));

  // CW tones
  if (p.bands) {
    p.bands.forEach(b => drawBand(hm, X(b[0]), Y(b[2] + b[3]), X(b[1]), Y(b[2] - b[3]), b[4]));
  }
  // LFM ridge, drawn as a staircase that follows the ridge line
  if (p.ridge) {
    const layers = p.ridge.concat(lfmCore);
    layers.forEach(s => {
      const step = 0.05;
      for (let t = s[0]; t < s[1] - 1e-6; t += step) {
        const t1 = Math.min(t + step, s[1]);
        const fc = ridgeFreq((t + t1) / 2);
        drawBand(hm, X(t), Y(fc + s[2]), X(t1) + 0.6, Y(fc - s[2]), s[3]);
      }
    });
  }

  // axes box
  drawLine(g, c.left, r.top, c.right, r.top, 4, 'axis-top');
  drawLine(g, c.left, r.bottom, c.right, r.bottom, 4, 'axis-bottom');
  drawLine(g, c.left, r.top, c.left, r.bottom, 2, 'axis-left');
  drawLine(g, c.right, r.top, c.right, r.bottom, 2, 'axis-right');

  // ticks and labels
  xTickValues.forEach((v, i) => {
    drawLine(g, X(v), r.bottom, X(v), r.bottom - 13, 3, 'x-tick');
    drawLine(g, X(v), r.top, X(v), r.top + 13, 3, 'x-tick');
    drawTickLabel(g, X(v), r.bottom + 66, xTickLabels[i], 'middle', 48, 'x-tick-label');
  });
  yTickValues.forEach((v, i) => {
    drawLine(g, c.left, Y(v), c.left + 13, Y(v), 3, 'y-tick');
    drawLine(g, c.right, Y(v), c.right - 13, Y(v), 3, 'y-tick');
    drawTickLabel(g, c.yLabelX, Y(v) + 17, yTickLabels[i], 'end', 48, 'y-tick-label');
  });

  // colour bar
  const CB = db => r.bottom - (db - colorDomain[0]) / (colorDomain[1] - colorDomain[0]) * (r.bottom - r.top);
  const bar = document.createElementNS(SVGNS, 'g');
  
  
  g.appendChild(bar);
  for (let db = colorDomain[0]; db < colorDomain[1]; db += 0.5) {
    const el = document.createElementNS(SVGNS, 'rect');
    
    
    setRect(el, c.barLeft, CB(db + 0.5) - 0.4, c.barRight, CB(db), colorFor(db + 0.25));
    bar.appendChild(el);
  }
  const frame = document.createElementNS(SVGNS, 'rect');
  
  
  setRect(frame, c.barLeft, r.top, c.barRight, r.bottom, 'none');
  frame.setAttribute('stroke', '#303030');
  frame.setAttribute('stroke-width', '3');
  bar.appendChild(frame);
  colorbarTickValues.forEach((v, i) => {
    if (v > colorDomain[0]) drawLine(bar, c.barRight, CB(v), c.barRight - 7, CB(v), 2.5, 'colorbar-tick');
    drawTickLabel(bar, c.barLabelX - 1, CB(v) + 16, colorbarTickLabels[i], 'start', 46, 'colorbar-tick-label');
  });
}
panels.forEach(drawPanel);
</script>
</body>
</html>
